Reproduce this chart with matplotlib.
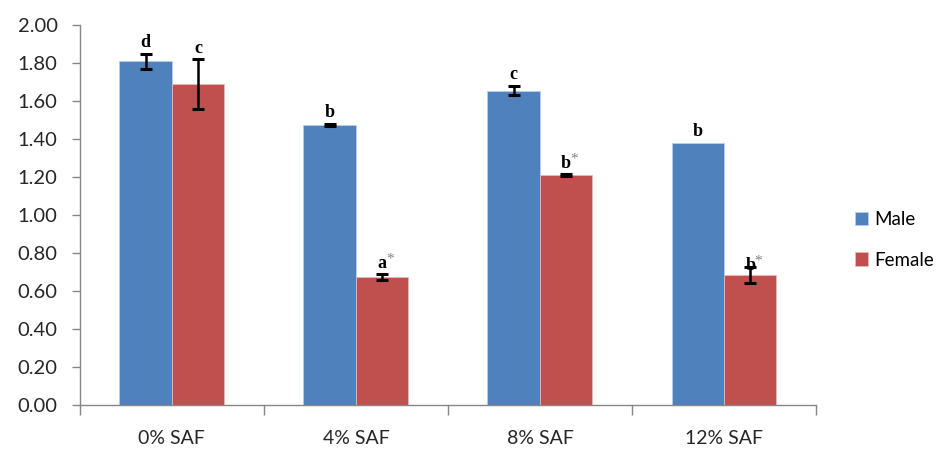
import numpy as np
import matplotlib
matplotlib.use('Agg')
from matplotlib import pyplot as plt

# 数据
groups = ['0% SAF', '4% SAF', '8% SAF', '12% SAF']
male = [1.81, 1.475, 1.655, 1.38]
male_err = [0.04, 0.005, 0.025, 0.0]
female = [1.69, 0.675, 1.21, 0.685]
female_err = [0.13, 0.015, 0.005, 0.04]
male_letters = ['d', 'b', 'c', 'b']
female_letters = ['c', 'a', 'b', 'b']
female_star = [False, True, True, True]

blue = '#4f81bd'
red = '#c0504d'
plt.rcParams['font.family'] = ['Lato', 'DejaVu Sans']

fig = plt.figure(figsize=(9.5, 4.5), dpi=100)
ax = fig.add_axes([0.084, 0.1, 0.775, 0.844])

x = np.arange(len(groups))
w = 0.285
ax.bar(x - w / 2, male, w, color=blue, edgecolor='#b9cde5', linewidth=0.6, label='Male')
ax.bar(x + w / 2, female, w, color=red, edgecolor='#e6b9b8', linewidth=0.6, label='Female')

# 误差线
ekw = dict(fmt='none', ecolor='black', elinewidth=1.8, capsize=4.5, capthick=2.2)
for i in range(len(groups)):
    if male_err[i] > 0:
        ax.errorbar(x[i] - w / 2, male[i], yerr=male_err[i], **ekw)
    if female_err[i] > 0:
        ax.errorbar(x[i] + w / 2, female[i], yerr=female_err[i], **ekw)

# 显著性字母
serif = dict(family='Liberation Serif', fontweight='bold', fontsize=13, ha='center', va='bottom')
for i in range(len(groups)):
    ax.text(x[i] - w / 2, male[i] + male_err[i] + 0.015, male_letters[i], **serif)
    t_y = female[i] + female_err[i] + 0.01
    if i == 3:
        t_y = female[i] + 0.005
    ax.text(x[i] + w / 2, t_y, female_letters[i], **serif)
    if female_star[i]:
        ax.text(x[i] + w / 2 + 0.045, t_y + 0.035, '*', family='Liberation Serif',
                fontsize=11, color='#808080', ha='center', va='bottom')

ax.set_xlim(-0.5, len(groups) - 0.5)
ax.set_ylim(0, 2.0)
ax.set_yticks(np.arange(0, 2.01, 0.2))
ax.set_yticklabels(['{:.2f}'.format(v) for v in np.arange(0, 2.01, 0.2)])
ax.set_xticks(np.arange(-0.5, len(groups), 1.0))
ax.set_xticklabels([])
ax.set_xticks(x, minor=True)
ax.set_xticklabels(groups, minor=True)
ax.tick_params(axis='x', which='minor', length=0, pad=18, labelsize=14, labelcolor='#262626')
ax.tick_params(axis='x', which='major', length=7, width=1, color='#868686', direction='out')
ax.tick_params(axis='y', length=6, width=1, color='#868686', labelsize=14.5, labelcolor='#262626', pad=10)

for s in ['top', 'right']:
    ax.spines[s].set_visible(False)
for s in ['left', 'bottom']:
    ax.spines[s].set_color('#868686')
    ax.spines[s].set_linewidth(1)

fig.legend(loc='center left', bbox_to_anchor=(0.9, 0.467), frameon=False, fontsize=13.5,
           handlelength=0.7, handleheight=0.7, handletextpad=0.35, labelspacing=1.25,
           borderaxespad=0, borderpad=0)

plt.savefig('out.png', dpi=100)
